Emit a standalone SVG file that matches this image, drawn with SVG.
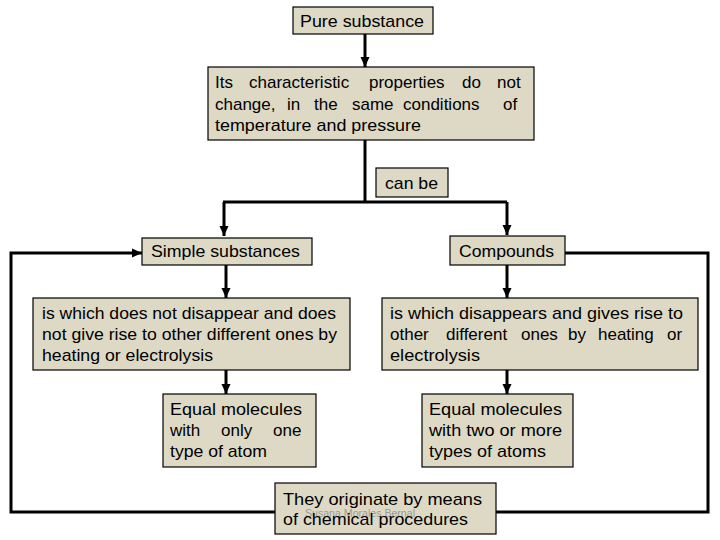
<svg xmlns="http://www.w3.org/2000/svg" width="720" height="540" viewBox="0 0 720 540">
<defs>
<style>
.box{fill:#ddd9c4;stroke:#000;stroke-width:1.2}
.t{font-family:"Liberation Sans",Arial,sans-serif;font-size:17px;fill:#000}
.ln{fill:none;stroke:#000;stroke-width:3}
.wm{font-family:"Liberation Sans",Arial,sans-serif;font-size:11px;fill:#9a9a9a}
</style>
<marker id="ah" markerUnits="userSpaceOnUse" markerWidth="10" markerHeight="10" viewBox="0 0 10 10" refX="10" refY="5" orient="auto">
<path d="M0,0.5 L10,5 L0,9.5 Z" fill="#000"/>
</marker>
</defs>
<rect width="720" height="540" fill="#fff"/>
<g id="connectors">
<path class="ln" d="M365,34 V67" marker-end="url(#ah)"/>
<path class="ln" d="M365,140 V202"/>
<path class="ln" d="M223,202 H507"/>
<path class="ln" d="M224,202 V236" marker-end="url(#ah)"/>
<path class="ln" d="M507,202 V235" marker-end="url(#ah)"/>
<path class="ln" d="M226,265 V298" marker-end="url(#ah)"/>
<path class="ln" d="M507,265 V298" marker-end="url(#ah)"/>
<path class="ln" d="M226,370 V394" marker-end="url(#ah)"/>
<path class="ln" d="M507,370 V394" marker-end="url(#ah)"/>
<path class="ln" d="M275,512 H11 V253 H142" marker-end="url(#ah)"/>
<path class="ln" d="M565,253 H708 V512 H496"/>
</g>
<g id="pure">
<rect class="box" x="293" y="7" width="140" height="27"/>
<text class="t" x="300" y="27" textLength="124" lengthAdjust="spacingAndGlyphs">Pure substance</text>
</g>
<g id="props">
<rect class="box" x="208" y="67" width="326" height="73"/>
<text class="t" y="88"><tspan x="215">Its</tspan><tspan x="249">characteristic</tspan><tspan x="369">properties</tspan><tspan x="462">do</tspan><tspan x="497">not</tspan></text>
<text class="t" y="110"><tspan x="215">change,</tspan><tspan x="287">in</tspan><tspan x="314">the</tspan><tspan x="352">same</tspan><tspan x="403">conditions</tspan><tspan x="503">of</tspan></text>
<text class="t" x="215" y="131" textLength="206" lengthAdjust="spacingAndGlyphs">temperature and pressure</text>
</g>
<g id="canbe">
<rect class="box" x="376" y="168" width="72" height="29"/>
<text class="t" x="385" y="189" textLength="53" lengthAdjust="spacingAndGlyphs">can be</text>
</g>
<g id="simple">
<rect class="box" x="142" y="238" width="170" height="27"/>
<text class="t" x="151" y="257" textLength="149" lengthAdjust="spacingAndGlyphs">Simple substances</text>
</g>
<g id="compounds">
<rect class="box" x="450" y="236" width="115" height="29"/>
<text class="t" x="459" y="257" textLength="95" lengthAdjust="spacingAndGlyphs">Compounds</text>
</g>
<g id="simple-desc">
<rect class="box" x="33" y="298" width="317" height="72"/>
<text class="t" x="42" y="319" textLength="294" lengthAdjust="spacingAndGlyphs">is which does not disappear and does</text>
<text class="t" x="42" y="340" textLength="295" lengthAdjust="spacingAndGlyphs">not give rise to other different ones by</text>
<text class="t" x="42" y="361" textLength="171" lengthAdjust="spacingAndGlyphs">heating or electrolysis</text>
</g>
<g id="compound-desc">
<rect class="box" x="382" y="298" width="316" height="72"/>
<text class="t" x="390" y="319" textLength="293" lengthAdjust="spacingAndGlyphs">is which disappears and gives rise to</text>
<text class="t" y="340"><tspan x="390">other</tspan><tspan x="446">different</tspan><tspan x="521">ones</tspan><tspan x="568">by</tspan><tspan x="598">heating</tspan><tspan x="667">or</tspan></text>
<text class="t" x="390" y="361" textLength="90" lengthAdjust="spacingAndGlyphs">electrolysis</text>
</g>
<g id="simple-mol">
<rect class="box" x="163" y="394" width="153" height="73"/>
<text class="t" x="170" y="415" textLength="132" lengthAdjust="spacingAndGlyphs">Equal molecules</text>
<text class="t" y="436"><tspan x="170">with</tspan><tspan x="221">only</tspan><tspan x="273">one</tspan></text>
<text class="t" x="170" y="457" textLength="97" lengthAdjust="spacingAndGlyphs">type of atom</text>
</g>
<g id="compound-mol">
<rect class="box" x="422" y="394" width="151" height="73"/>
<text class="t" x="429" y="415" textLength="133" lengthAdjust="spacingAndGlyphs">Equal molecules</text>
<text class="t" x="429" y="436" textLength="133" lengthAdjust="spacingAndGlyphs">with two or more</text>
<text class="t" x="429" y="457" textLength="117" lengthAdjust="spacingAndGlyphs">types of atoms</text>
</g>
<g id="origin">
<rect class="box" x="275" y="483" width="221" height="51"/>
<text class="wm" x="305" y="517" textLength="110" lengthAdjust="spacingAndGlyphs">Susana Morales Bernal</text>
<text class="t" x="283" y="505" textLength="199" lengthAdjust="spacingAndGlyphs">They originate by means</text>
<text class="t" x="283" y="525" textLength="185" lengthAdjust="spacingAndGlyphs">of chemical procedures</text>
</g>
</svg>
